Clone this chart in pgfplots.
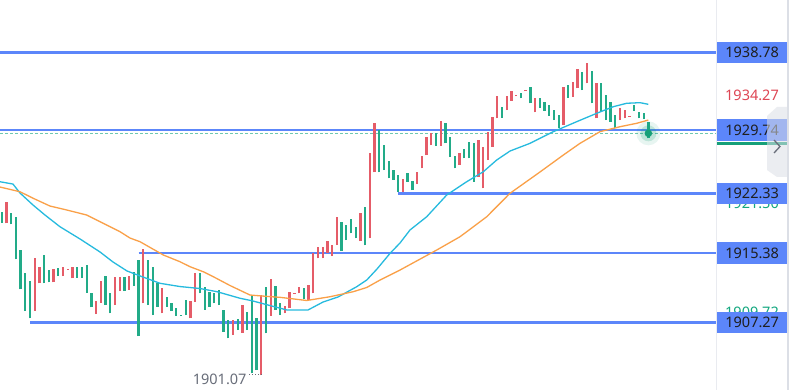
\documentclass[border=0pt]{standalone}
\usepackage{pgfplots}
\pgfplotsset{compat=1.18}
\usepackage{pgfplotstable}
\usepackage{fontspec}
\setmainfont{Noto Sans}
\definecolor{cred}{RGB}{229,92,104}
\definecolor{cgreen}{RGB}{34,171,136}
\definecolor{cblue}{RGB}{92,134,250}
\definecolor{ccyan}{RGB}{38,186,222}
\definecolor{corange}{RGB}{250,160,72}
\definecolor{cteal}{RGB}{22,160,120}
\definecolor{cdash}{RGB}{110,200,175}
\definecolor{ctxtred}{RGB}{222,70,84}
\definecolor{ctxtgreen}{RGB}{20,168,128}
\definecolor{cgray}{RGB}{105,110,122}
\definecolor{csep}{RGB}{233,235,240}
\definecolor{cborder}{RGB}{220,223,230}
\newcommand\labelfont{\fontsize{14.5bp}{16bp}\selectfont}
\tikzset{pricebox/.style={fill=cblue, minimum width=70bp, minimum height=21.5bp, anchor=west, inner sep=0pt, font=\labelfont, text=black!88}}

\pgfplotstableread{
i lo hi
2 1918.84 1921.37
8 1908.63 1914.79
9 1911.83 1913.77
12 1911.95 1913.50
14 1912.68 1913.77
15 1913.42 1913.53
16 1912.41 1913.77
21 1908.24 1909.76
22 1909.56 1912.10
25 1909.29 1912.60
26 1910.93 1912.60
28 1911.05 1912.68
31 1909.49 1915.80
35 1908.32 1911.24
41 1907.74 1909.76
42 1909.68 1913.00
50 1905.79 1907.54
52 1906.05 1909.29
56 1901.11 1910.46
58 1908.01 1912.30
61 1908.32 1909.18
62 1908.91 1910.85
63 1910.58 1910.73
64 1910.66 1911.43
66 1909.88 1911.63
67 1910.66 1915.40
68 1914.75 1916.11
69 1914.75 1916.11
70 1915.40 1916.81
71 1915.02 1916.30
72 1916.30 1919.61
77 1916.77 1920.08
79 1917.09 1927.02
80 1924.78 1930.53
86 1922.53 1923.98
89 1923.43 1924.87
90 1925.27 1926.71
91 1926.82 1928.96
92 1927.99 1929.43
94 1927.88 1930.83
98 1925.66 1927.02
102 1924.29 1928.58
103 1922.93 1927.79
104 1926.24 1929.55
105 1927.79 1931.23
106 1931.11 1933.72
108 1932.08 1933.75
109 1933.14 1934.30
110 1933.72 1933.84
112 1934.30 1934.42
114 1931.81 1933.52
120 1930.33 1934.81
122 1933.64 1935.39
123 1934.62 1936.88
125 1935.20 1937.54
127 1931.11 1935.20
132 1930.91 1932.35
133 1931.11 1932.08
134 1931.27 1931.42
}\redtable

\pgfplotstableread{
i lo hi
1 1918.91 1920.20
3 1918.72 1920.08
4 1914.63 1919.61
5 1911.13 1915.72
6 1908.63 1913.07
7 1907.74 1912.10
10 1911.83 1915.10
11 1911.95 1913.38
13 1912.68 1913.65
17 1912.48 1913.77
18 1912.48 1913.77
19 1910.73 1913.97
20 1909.02 1910.73
23 1909.29 1912.68
24 1908.32 1910.66
27 1910.93 1912.53
29 1911.51 1913.15
30 1905.67 1914.55
32 1909.29 1914.55
33 1908.12 1913.70
34 1909.09 1911.83
36 1909.09 1910.26
37 1908.59 1909.49
38 1908.04 1908.91
39 1908.01 1908.12
40 1908.12 1909.88
43 1910.66 1913.00
44 1908.71 1911.43
45 1909.09 1910.85
46 1909.49 1910.66
47 1909.29 1911.05
48 1906.17 1908.71
49 1905.40 1907.54
51 1906.37 1907.62
53 1906.37 1908.51
54 1901.31 1910.46
55 1901.69 1907.74
57 1905.98 1911.43
59 1908.71 1911.51
60 1908.12 1909.56
65 1909.96 1911.24
73 1915.64 1919.03
74 1916.89 1918.64
75 1917.67 1919.31
76 1917.09 1918.44
78 1916.25 1920.71
81 1924.78 1929.78
82 1925.07 1927.99
83 1924.10 1926.18
84 1923.94 1925.07
85 1922.53 1924.49
87 1923.70 1924.69
88 1922.73 1923.82
93 1927.88 1929.43
95 1928.19 1930.53
96 1926.63 1928.96
97 1925.27 1926.71
99 1926.44 1927.49
100 1926.44 1928.38
101 1923.70 1928.19
107 1931.18 1932.47
111 1933.45 1934.03
113 1932.87 1934.74
115 1932.35 1933.52
116 1931.97 1933.05
117 1931.42 1932.67
118 1930.91 1932.08
119 1929.94 1931.50
121 1933.52 1935.01
124 1934.42 1936.56
126 1932.87 1936.64
128 1931.89 1935.20
129 1930.91 1933.84
130 1930.72 1933.05
131 1929.94 1931.50
135 1931.97 1932.67
136 1931.11 1931.89
137 1931.03 1931.70
138 1928.78 1930.72
}\greentable

\begin{document}
\begin{tikzpicture}
\fill[white] (0,0) rectangle (793bp,390bp);
\begin{axis}[at={(0,0)}, anchor=south west, scale only axis,
  width=717bp, height=390bp,
  xmin=0.64, xmax=152.54, ymin=1899.36, ymax=1944.94,
  hide axis, clip=false]

% current price dashed line
\addplot[cdash, line width=0.9bp, dash pattern=on 3bp off 2bp] coordinates {(0.64,1929.36) (152.54,1929.36)};

% horizontal levels
\addplot[cblue, line width=2.5bp] coordinates {(0.64,1938.78) (152.54,1938.78)};
\addplot[cblue, line width=2.5bp] coordinates {(0.64,1929.74) (152.54,1929.74)};
\addplot[cblue, line width=2.5bp] coordinates {(85,1922.33) (152.54,1922.33)};
\addplot[cblue, line width=2.5bp] coordinates {(30,1915.38) (152.54,1915.38)};
\addplot[cblue, line width=2.5bp] coordinates {(7,1907.27) (152.54,1907.27)};

% candles
\addplot[draw=none, mark=none, error bars/.cd, y dir=plus, y explicit, error mark=none,
  error bar style={line width=2.3bp, solid, draw=cred}]
  table[x=i, y=lo, y error expr=\thisrow{hi}-\thisrow{lo}] {\redtable};
\addplot[draw=none, mark=none, error bars/.cd, y dir=plus, y explicit, error mark=none,
  error bar style={line width=2.3bp, solid, draw=cgreen}]
  table[x=i, y=lo, y error expr=\thisrow{hi}-\thisrow{lo}] {\greentable};

% moving averages
\addplot[ccyan, line width=1.3bp, line join=round] coordinates {
(0.64,1923.70) (3.39,1923.43) (4.88,1922.38) (7.63,1920.98) (10.17,1919.81)
(13.35,1918.44) (17.59,1917.01) (21.83,1915.49) (24.58,1914.32) (27.55,1913.27)
(30.94,1912.56) (34.54,1911.83) (38.77,1911.45) (43.01,1911.22) (46.61,1910.85)
(51.49,1910.08) (54.03,1909.79) (57.84,1909.23) (61.44,1908.71) (65.89,1908.71)
(69.07,1909.64) (72.25,1910.23) (76.21,1911.43) (78.33,1912.21) (80.51,1913.50)
(83.27,1915.33) (85.38,1916.54) (87.50,1918.06) (91.04,1919.61) (95.28,1922.15)
(99.51,1923.70) (103.03,1924.87) (105.87,1926.24) (108.69,1927.29) (112.93,1928.19)
(117.86,1929.55) (122.82,1930.72) (127.06,1931.70) (130.57,1932.47) (133.41,1932.87)
(136.23,1932.94) (137.99,1932.75)};
\addplot[corange, line width=1.3bp, line join=round] coordinates {
(0.64,1923.08) (4.88,1922.53) (7.69,1921.76) (11.23,1920.86) (14.77,1920.40)
(19.01,1919.81) (21.83,1919.03) (26.06,1917.86) (28.18,1917.12) (30.30,1916.69)
(35.24,1915.14) (38.77,1914.35) (40.89,1913.77) (43.71,1913.18) (45.83,1912.60)
(49.37,1911.57) (53.60,1910.46) (57.42,1910.29) (59.96,1910.19) (65.62,1909.82)
(70.55,1910.26) (75.49,1910.85) (78.33,1911.34) (81.15,1912.21) (85.38,1913.38)
(93.16,1915.72) (98.09,1917.27) (103.75,1919.61) (108.69,1922.35) (115.04,1924.84)
(119.98,1926.82) (123.52,1928.19) (127.75,1929.55) (131.99,1930.13) (135.53,1930.53)
(137.99,1930.91)};

% glow dot
\fill[cteal, opacity=0.10] (axis cs:138,1929.36) circle[radius=12bp];
\fill[cteal, opacity=0.20] (axis cs:138,1929.36) circle[radius=8bp];
\fill[cteal] (axis cs:138,1929.36) circle[radius=3.8bp];

% low label
\node[text=cgray, font=\labelfont, inner sep=0pt] at (axis cs:47.18,1900.64) {1901.07};
\draw[cgray, line width=0.9bp, dash pattern=on 0.9bp off 2.2bp] (axis cs:53.4,1901.15) -- (axis cs:56.2,1901.15);

% right panel
\draw[csep, line width=1.5bp] (axis cs:152.38,1899.36) -- (axis cs:152.38,1944.94);
\node[text=ctxtred, font=\labelfont, inner sep=0pt] at (axis cs:159.95,1933.81) {1934.27};
\node[text=ctxtgreen, font=\labelfont, inner sep=0pt] at (axis cs:159.95,1921.12) {1921.50};
\node[text=ctxtgreen, font=\labelfont, inner sep=0pt] at (axis cs:159.95,1908.38) {1909.72};
\draw[cteal, line width=3bp] (axis cs:152.54,1928.19) -- (axis cs:167.37,1928.19);
\node[pricebox] at (axis cs:152.54,1938.78) {1938.78};
\node[pricebox] at (axis cs:152.54,1929.74) {1929.74};
\node[pricebox] at (axis cs:152.54,1922.33) {1922.33};
\node[pricebox] at (axis cs:152.54,1915.38) {1915.38};
\node[pricebox] at (axis cs:152.54,1907.27) {1907.27};
\end{axis}
% tab and chevron
\fill[cborder, opacity=0.55] (777bp,283bp) -- (787bp,283bp) -- (787bp,213bp) -- (777bp,213bp) -- (767bp,220bp) -- (767bp,274bp) -- cycle;
\draw[cgray, line width=1.3bp] (774bp,250bp) -- (780bp,243.5bp) -- (774bp,237bp);
\draw[cborder, line width=2bp] (788bp,0) -- (788bp,390bp);
\pgfresetboundingbox
\path (0,0) rectangle (793bp,390bp);
\end{tikzpicture}
\end{document}
